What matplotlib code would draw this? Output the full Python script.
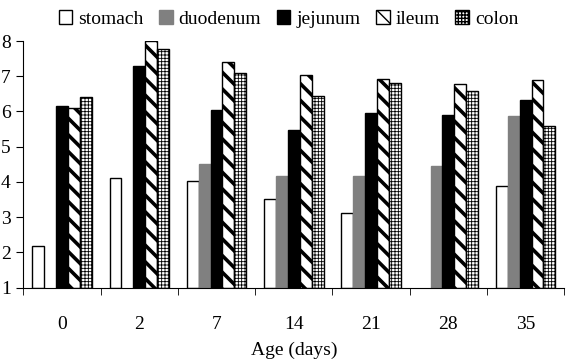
import numpy as np
import matplotlib
matplotlib.use("Agg")
import matplotlib.pyplot as plt

ages = ["0", "2", "7", "14", "21", "28", "35"]
segments = ["stomach", "duodenum", "jejunum", "ileum", "colon"]

stomach = [2.18, 4.12, 4.04, 3.52, 3.11, np.nan, 3.88]
duodenum = [np.nan, np.nan, 4.50, 4.18, 4.18, 4.44, 5.87]
jejunum = [6.16, 7.30, 6.03, 5.47, 5.95, 5.89, 6.33]
ileum = [6.11, 8.00, 7.41, 7.03, 6.93, 6.79, 6.89]
colon = [6.40, 7.77, 7.08, 6.44, 6.80, 6.58, 5.59]

series = [stomach, duodenum, jejunum, ileum, colon]
styles = [
    dict(facecolor="white", edgecolor="black", hatch=None, hlw=1.0),
    dict(facecolor="#808080", edgecolor="#808080", hatch=None, hlw=1.0),
    dict(facecolor="black", edgecolor="black", hatch=None, hlw=1.0),
    dict(facecolor="white", edgecolor="black", hatch="\\\\", hlw=2.6),
    dict(facecolor="white", edgecolor="black", hatch="+++++", hlw=0.6),
]

plt.rcParams["font.family"] = "Liberation Serif"

fig = plt.figure(figsize=(5.77, 3.6), dpi=100)
ax = fig.add_axes([0.0404, 0.2008, 0.9376, 0.6853])

x = np.arange(len(ages))
w = 1 / 6.5
handles = []
for i, (vals, st) in enumerate(zip(series, styles)):
    vals = np.array(vals, dtype=float)
    bars = ax.bar(x + (i - 2) * w, vals - 1, width=w, bottom=1,
                  facecolor=st["facecolor"], edgecolor=st["edgecolor"],
                  hatch=st["hatch"], linewidth=1.0, label=segments[i])
    for b in bars:
        if hasattr(b, "set_hatch_linewidth"):
            b.set_hatch_linewidth(st["hlw"])
    handles.append(bars)

ax.set_xlim(-0.5, len(ages) - 0.5)
ax.set_ylim(1, 8)
ax.set_yticks(range(1, 9))
ax.set_xticks(x)
ax.set_xticklabels(ages, fontsize=14)
ax.set_xticks(np.arange(-0.5, len(ages)), minor=True)
ax.tick_params(axis="x", which="major", length=0, pad=20.5)
ax.tick_params(axis="x", which="minor", length=5, direction="out")
ax.tick_params(axis="y", length=5, direction="out", labelsize=14, pad=4)
ax.spines["top"].set_visible(False)
ax.spines["right"].set_visible(False)
ax.set_xlabel("Age (days)", fontsize=14, labelpad=6)

fig.legend(handles=handles, labels=segments, loc="upper center",
           bbox_to_anchor=(0.5, 1.02), ncol=5, frameon=False, fontsize=14,
           handlelength=0.7, handleheight=0.7, handletextpad=0.3,
           columnspacing=0.8)

fig.savefig("out.png", dpi=100)
